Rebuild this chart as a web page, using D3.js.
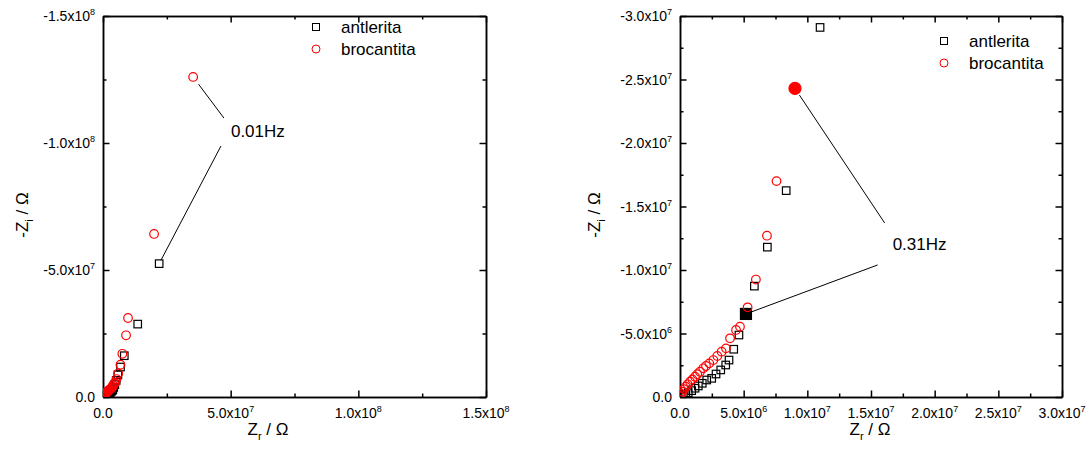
<!DOCTYPE html>
<html lang="en">
<head>
<meta charset="UTF-8">
<title>Nyquist antlerita / brocantita</title>
<script src="https://d3js.org/d3.v7.min.js"></script>
<style>
    body, html { margin: 0; background: #fff; }
    svg { font-family: "Liberation Sans", Arial, sans-serif; }
    .domain, .tick line { stroke: #000; stroke-width: 1.5px; }
</style>
</head>
<body>
<div id="chart"></div>
<script>
// Zr, Zi (ohm); low-frequency points shared by both panels
const antleritaLow = [[0.05e6,-0.02e6],[0.26e6,-0.10e6],[0.45e6,-0.21e6],[0.65e6,-0.34e6],[0.92e6,-0.50e6],[1.18e6,-0.69e6],[1.44e6,-0.87e6],[1.75e6,-1.08e6],[2.10e6,-1.34e6],[2.49e6,-1.47e6],[2.83e6,-1.81e6],[3.20e6,-2.13e6],[3.59e6,-2.52e6],[3.85e6,-2.91e6],[4.22e6,-3.76e6],[4.63e6,-4.88e6],[5.18e6,-6.54e6],[5.84e6,-8.73e6],[6.86e6,-11.8e6],[8.34e6,-16.25e6]];
const brocantitaLow = [[0.02e6,-0.08e6],[0.08e6,-0.24e6],[0.18e6,-0.42e6],[0.31e6,-0.61e6],[0.45e6,-0.81e6],[0.60e6,-1.00e6],[0.79e6,-1.20e6],[0.97e6,-1.39e6],[1.18e6,-1.60e6],[1.36e6,-1.79e6],[1.57e6,-1.99e6],[1.83e6,-2.26e6],[2.04e6,-2.44e6],[2.30e6,-2.65e6],[2.62e6,-2.91e6],[2.93e6,-3.23e6],[3.27e6,-3.57e6],[3.61e6,-3.83e6],[3.93e6,-4.62e6],[4.40e6,-5.28e6],[4.71e6,-5.54e6],[5.31e6,-7.06e6],[5.96e6,-9.25e6],[6.83e6,-12.7e6],[7.58e6,-17.0e6],[9.03e6,-24.3e6]];

// extra high-impedance points per panel
const antleritaLeftExtra = [[13.6e6,-28.7e6],[22.0e6,-52.5e6]];
const brocantitaLeftExtra = [[9.8e6,-31.1e6],[20.0e6,-64.2e6],[35.3e6,-126e6]];
const antleritaRightExtra = [[11.0e6,-29.1e6]];

// highlighted points (right panel)
const markedAntlerita = [5.18e6, -6.54e6];
const markedBrocantita = [9.03e6, -24.3e6];

const leftXTicks = [0, 5e7, 1e8, 1.5e8];
const leftXMinor = [2.5e7, 7.5e7, 1.25e8];
const leftYTicks = [0, -5e7, -1e8, -1.5e8];
const leftYMinor = [-2.5e7, -7.5e7, -1.25e8];
const rightXTicks = [0, 5e6, 1e7, 1.5e7, 2e7, 2.5e7, 3e7];
const rightXMinor = [2.5e6, 7.5e6, 1.25e7, 1.75e7, 2.25e7, 2.75e7];
const rightYTicks = [0, -5e6, -1e7, -1.5e7, -2e7, -2.5e7, -3e7];
const rightYMinor = [-2.5e6, -7.5e6, -1.25e7, -1.75e7, -2.25e7, -2.75e7];

const seriesNames = ["antlerita", "brocantita"];

const width = 1090, height = 462;
const svg = d3.select("#chart").append("svg")
    .attr("width", width).attr("height", height);

function fmt(v) {
    if (v === 0) return { m: "0.0", e: null };
    const e = Math.floor(Math.log10(Math.abs(v)) + 1e-9);
    return { m: (v / Math.pow(10, e)).toFixed(1) + "x10", e: e };
}

function label(g, v, x, y, anchor) {
    const f = fmt(v);
    const t = g.append("text").attr("x", x).attr("y", y)
        .attr("text-anchor", anchor).style("font-size", "14px");
    t.append("tspan").text(f.m);
    if (f.e !== null) t.append("tspan").attr("dy", -6).style("font-size", "9px").text(f.e);
}

function axisTitle(g, main, sub, x, y, rotate) {
    const t = g.append("text").attr("text-anchor", "middle").style("font-size", "17px")
        .attr("transform", `translate(${x},${y})` + (rotate ? " rotate(-90)" : ""));
    t.append("tspan").text(main);
    t.append("tspan").attr("dy", 5).style("font-size", "11px").text(sub);
    t.append("tspan").attr("dy", -5).text(" / \u03A9");
}

function panel(cfg) {
    const x = d3.scaleLinear().domain(cfg.xDomain).range([cfg.left, cfg.right]);
    const y = d3.scaleLinear().domain(cfg.yDomain).range([cfg.bottom, cfg.top]);
    const g = svg.append("g");

    const clipId = "clip" + cfg.id;
    svg.append("clipPath").attr("id", clipId).append("rect")
        .attr("x", cfg.left).attr("y", cfg.top)
        .attr("width", cfg.right - cfg.left).attr("height", cfg.bottom - cfg.top);

    // axes: ticks inward on all sides
    const sides = [
        [d3.axisBottom(x), cfg.xTicks, cfg.xMinor, `translate(0,${cfg.bottom})`],
        [d3.axisTop(x), cfg.xTicks, cfg.xMinor, `translate(0,${cfg.top})`],
        [d3.axisLeft(y), cfg.yTicks, cfg.yMinor, `translate(${cfg.left},0)`],
        [d3.axisRight(y), cfg.yTicks, cfg.yMinor, `translate(${cfg.right},0)`]
    ];
    sides.forEach(([ax, major, minor, tr]) => {
        g.append("g").attr("transform", tr)
            .call(ax.tickValues(minor).tickSizeInner(-3.5).tickSizeOuter(0).tickFormat(""));
        g.append("g").attr("transform", tr)
            .call(ax.tickValues(major).tickSizeInner(-6.5).tickSizeOuter(0).tickFormat(""));
    });

    cfg.xTicks.forEach(v => label(g, v, x(v), cfg.bottom + 21, "middle"));
    cfg.yTicks.forEach(v => label(g, v, cfg.left - 8, y(v) + 5, "end"));

    axisTitle(g, "Z", "r", cfg.xTitleX, 435, false);
    axisTitle(g, "-Z", "i", cfg.yTitleX, 215, true);

    const plot = g.append("g").attr("clip-path", `url(#${clipId})`);
    const same = (a, b) => b && a[0] === b[0] && a[1] === b[1];

    plot.selectAll(".sq").data(cfg.antlerita).enter().append("rect")
        .attr("class", "sq")
        .each(function (d) {
            const s = same(d, cfg.markA) ? 11 : 7.5;
            d3.select(this)
                .attr("x", x(d[0]) - s / 2).attr("y", y(d[1]) - s / 2)
                .attr("width", s).attr("height", s)
                .attr("fill", same(d, cfg.markA) ? "#000" : "none")
                .attr("stroke", "#000").attr("stroke-width", 1.2);
        });

    plot.selectAll(".ci").data(cfg.brocantita).enter().append("circle")
        .attr("class", "ci")
        .attr("cx", d => x(d[0])).attr("cy", d => y(d[1]))
        .attr("r", d => same(d, cfg.markB) ? 6 : 4.3)
        .attr("fill", d => same(d, cfg.markB) ? "#f00" : "none")
        .attr("stroke", "#f00").attr("stroke-width", 1.2);

    // legend
    const lg = g.append("g").attr("transform", `translate(${cfg.legend[0]},${cfg.legend[1]})`);
    lg.append("rect").attr("x", -3.5).attr("y", -3.5).attr("width", 7).attr("height", 7)
        .attr("fill", "none").attr("stroke", "#000").attr("stroke-width", 1);
    lg.append("circle").attr("cx", 0).attr("cy", 22).attr("r", 4)
        .attr("fill", "none").attr("stroke", "#f00").attr("stroke-width", 1);
    seriesNames.forEach((n, i) => {
        lg.append("text").attr("x", 25).attr("y", 6 + i * 22)
            .style("font-size", "17px").text(n);
    });

    // annotation with two leaders
    const a = cfg.note;
    const lx = x(a.x), ly = y(a.y);
    g.append("text").attr("x", lx).attr("y", ly + 6).style("font-size", "17px").text(a.text);
    a.leaders.forEach(l => {
        const px = x(l.to[0]), py = y(l.to[1]);
        const ex = lx + l.off[0], ey = ly + l.off[1];
        const dx = ex - px, dy = ey - py, len = Math.hypot(dx, dy);
        g.append("line")
            .attr("x1", px + dx / len * l.gap).attr("y1", py + dy / len * l.gap)
            .attr("x2", ex).attr("y2", ey)
            .attr("stroke", "#000").attr("stroke-width", 1);
    });
}

panel({
    id: "L", left: 103, right: 486, top: 16, bottom: 397,
    xDomain: [0, 1.5e8], yDomain: [0, -1.5e8],
    xTicks: leftXTicks, xMinor: leftXMinor, yTicks: leftYTicks, yMinor: leftYMinor,
    antlerita: antleritaLow.concat(antleritaLeftExtra),
    brocantita: brocantitaLow.concat(brocantitaLeftExtra),
    markA: null, markB: null,
    xTitleX: 268, yTitleX: 28, legend: [316, 27],
    note: {
        text: "0.01Hz", x: 50.1e6, y: -104.7e6,
        leaders: [
            { to: brocantitaLeftExtra[2], off: [-7, -13], gap: 9 },
            { to: antleritaLeftExtra[1], off: [-10, 15], gap: 4 }
        ]
    }
});

panel({
    id: "R", left: 680, right: 1062, top: 16, bottom: 397,
    xDomain: [0, 3e7], yDomain: [0, -3e7],
    xTicks: rightXTicks, xMinor: rightXMinor, yTicks: rightYTicks, yMinor: rightYMinor,
    antlerita: antleritaLow.concat(antleritaRightExtra),
    brocantita: brocantitaLow,
    markA: markedAntlerita, markB: markedBrocantita,
    xTitleX: 870, yTitleX: 600, legend: [944, 41],
    note: {
        text: "0.31Hz", x: 16.7e6, y: -12.05e6,
        leaders: [
            { to: markedBrocantita, off: [-8, -21], gap: 8 },
            { to: markedAntlerita, off: [-15, 21], gap: 6 }
        ]
    }
});
</script>
</body>
</html>
